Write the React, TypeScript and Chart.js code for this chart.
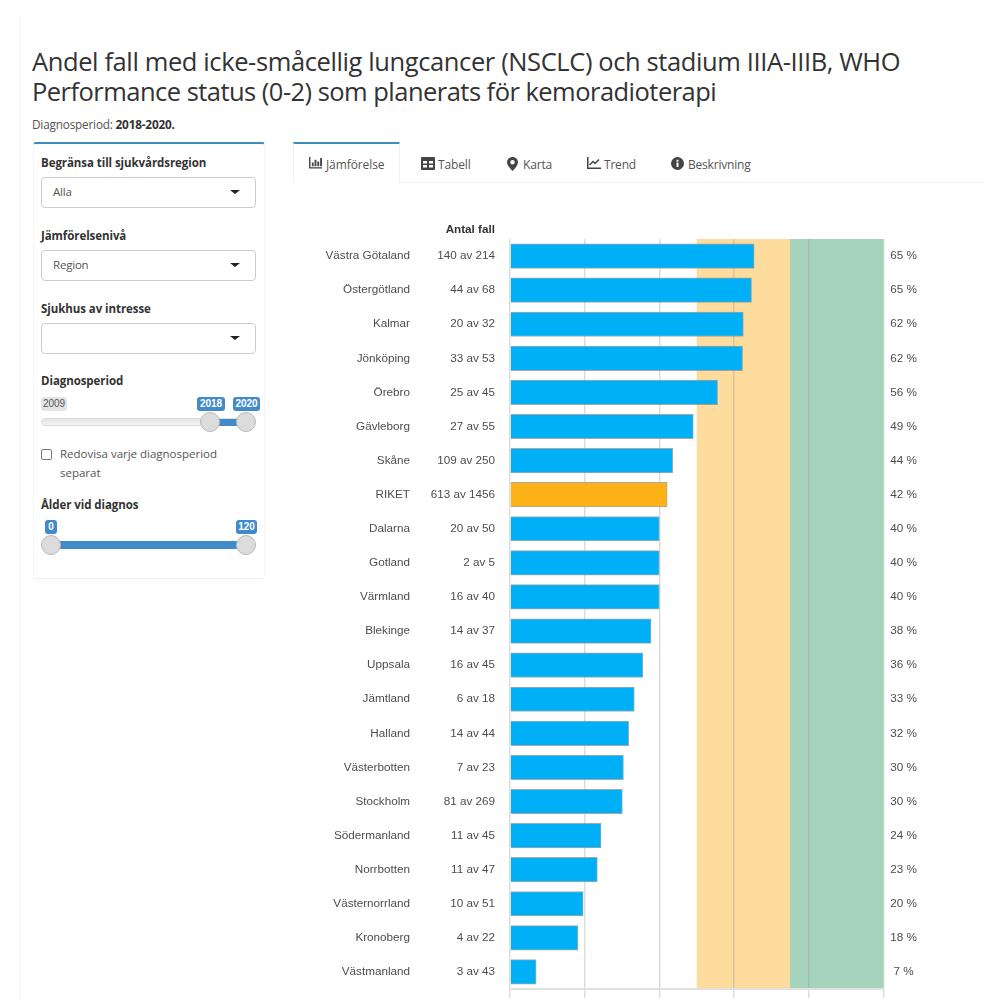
import React, { useEffect, useRef } from "react";
import { Chart, registerables } from "chart.js";

Chart.register(...registerables);

const regions = ["Västra Götaland", "Östergötland", "Kalmar", "Jönköping", "Örebro", "Gävleborg", "Skåne", "RIKET", "Dalarna", "Gotland", "Värmland", "Blekinge", "Uppsala", "Jämtland", "Halland", "Västerbotten", "Stockholm", "Södermanland", "Norrbotten", "Västernorrland", "Kronoberg", "Västmanland"];
const caseCounts = ["140 av 214", "44 av 68", "20 av 32", "33 av 53", "25 av 45", "27 av 55", "109 av 250", "613 av 1456", "20 av 50", "2 av 5", "16 av 40", "14 av 37", "16 av 45", "6 av 18", "14 av 44", "7 av 23", "81 av 269", "11 av 45", "11 av 47", "10 av 51", "4 av 22", "3 av 43"];
const shares = [65.4, 64.7, 62.5, 62.3, 55.6, 49.1, 43.6, 42.1, 40, 40, 40, 37.8, 35.6, 33.3, 31.8, 30.4, 30.1, 24.4, 23.4, 19.6, 18.2, 7];
const shareLabels = ["65 %", "65 %", "62 %", "62 %", "56 %", "49 %", "44 %", "42 %", "40 %", "40 %", "40 %", "38 %", "36 %", "33 %", "32 %", "30 %", "30 %", "24 %", "23 %", "20 %", "18 %", "7 %"];
const medium = [50, 75];
const high = [75, 100];

const uiFont = "'Open Sans', sans-serif";
const chartFont = "'Liberation Sans', Arial, sans-serif";

const box = (left: number, top: number, width: number, height: number, style: React.CSSProperties = {}): React.CSSProperties => ({
  position: "absolute", left, top, width, height, boxSizing: "border-box", ...style,
});

function Text({ x, y, size = 12, weight = 400, color = "#555", children, spacing = 0 }: any) {
  return (
    <div style={{ position: "absolute", left: x, top: y, fontFamily: uiFont, fontSize: size, fontWeight: weight, color, letterSpacing: spacing, whiteSpace: "nowrap", lineHeight: "16px" }}>
      {children}
    </div>
  );
}

function Heading({ y, children }: any) {
  return <Text x={41} y={y} weight={700} color="#333" size={11.5} spacing={-0.07}>{children}</Text>;
}

function Select({ y, label }: { y: number; label?: string }) {
  return (
    <div style={box(41, y, 215, 31, { border: "1px solid #ccc", borderRadius: 4, background: "#fff" })}>
      {label && <Text x={11} y={6} size={11.5} spacing={-0.2}>{label}</Text>}
      <div style={{ position: "absolute", left: 188, top: 12, width: 0, height: 0, borderLeft: "5px solid transparent", borderRight: "5px solid transparent", borderTop: "4px solid #222" }} />
    </div>
  );
}

function Handle({ x, y }: { x: number; y: number }) {
  return <div style={box(x - 10, y - 10, 20, 20, { borderRadius: "50%", background: "#dcdcdc", border: "1px solid #bbb" })} />;
}

function Badge({ x, y, width, children, grey }: any) {
  return (
    <div style={box(x, y, width, 14, { borderRadius: 3, background: grey ? "#e4e4e4" : "#428bca", color: grey ? "#555" : "#fff", fontFamily: chartFont, fontSize: 10, lineHeight: "14px", textAlign: "center", fontWeight: grey ? 400 : 700 })}>
      {children}
    </div>
  );
}

const icon = { position: "absolute" as const, top: 157 };

function Tabs() {
  return (
    <>
      <div style={box(293, 142, 107, 41, { borderTop: "2px solid #3c8dbc", borderLeft: "1px solid #f2f2f2", borderRight: "1px solid #f0f0f0", background: "#fff" })} />
      <div style={box(400, 182, 585, 1, { background: "#f2f2f2" })} />
      <svg style={{ ...icon, left: 309 }} width="13" height="12" viewBox="0 0 14 13">
        <path d="M0 0h1.5v11H14v1.5H0z M3 6h2v4H3z M6 3h2v7H6z M9 5h2v5H9z M12 1h2v9h-2z" fill="#444" />
      </svg>
      <Text x={326} y={156.5} spacing={-0.1}>Jämförelse</Text>
      <svg style={{ ...icon, left: 421 }} width="14" height="13" viewBox="0 0 14 13">
        <path fillRule="evenodd" d="M1 0h12a1 1 0 0 1 1 1v11a1 1 0 0 1-1 1H1a1 1 0 0 1-1-1V1a1 1 0 0 1 1-1z M2 4v2.5h4V4z M8 4v2.5h4V4z M2 8v2.5h4V8z M8 8v2.5h4V8z" fill="#444" />
      </svg>
      <Text x={438} y={156.5} spacing={-0.15}>Tabell</Text>
      <svg style={{ ...icon, left: 507 }} width="11" height="14" viewBox="0 0 11 14">
        <path fillRule="evenodd" d="M5.5 0A5.2 5.2 0 0 1 11 5.2C11 8 7.5 12 5.5 14 3.5 12 0 8 0 5.2A5.2 5.2 0 0 1 5.5 0z M5.5 3a2.2 2.2 0 1 0 0 4.4 2.2 2.2 0 0 0 0-4.4z" fill="#444" />
      </svg>
      <Text x={523} y={156.5} spacing={-0.15}>Karta</Text>
      <svg style={{ ...icon, left: 587 }} width="14" height="13" viewBox="0 0 14 13">
        <path d="M0 0h1.5v10.5H14V12H0z" fill="#444" />
        <path d="M2.5 8 6 4.5 8 6.5 12 2.5" fill="none" stroke="#444" strokeWidth="1.5" />
      </svg>
      <Text x={604} y={156.5} spacing={-0.2}>Trend</Text>
      <svg style={{ ...icon, left: 671 }} width="13" height="13" viewBox="0 0 13 13">
        <circle cx="6.5" cy="6.5" r="6.5" fill="#444" />
        <rect x="5.5" y="5.5" width="2" height="4.5" fill="#fff" />
        <rect x="5.5" y="2.8" width="2" height="1.8" fill="#fff" />
      </svg>
      <Text x={688} y={156.5} spacing={-0.2}>Beskrivning</Text>
    </>
  );
}

function Sidebar() {
  return (
    <>
      <div style={box(33, 142, 232, 437, { borderTop: "2px solid #3c8dbc", borderBottom: "1px solid #eee", borderLeft: "1px solid #f6f6f6", borderRight: "1px solid #f6f6f6", borderRadius: 3 })} />
      <Heading y={155}>Begränsa till sjukvårdsregion</Heading>
      <Select y={177} label="Alla" />
      <Heading y={228}>Jämförelsenivå</Heading>
      <Select y={250} label="Region" />
      <Heading y={301}>Sjukhus av intresse</Heading>
      <Select y={323} />
      <Heading y={373}>Diagnosperiod</Heading>
      <Badge x={41} y={397} width={26} grey>2009</Badge>
      <Badge x={197} y={397} width={28}>2018</Badge>
      <Badge x={233} y={397} width={27}>2020</Badge>
      <div style={box(41, 418, 215, 8, { background: "linear-gradient(#e4e4e4, #f4f4f4)", border: "1px solid #ddd", borderRadius: 4 })} />
      <div style={box(210, 419, 36, 7, { background: "#428bca" })} />
      <Handle x={210} y={421.5} />
      <Handle x={246} y={421.5} />
      <div style={box(41, 449, 11, 11, { border: "1px solid #777", borderRadius: 2, background: "#fff" })} />
      <Text x={60} y={446} size={11.5} spacing={-0.01}>Redovisa varje diagnosperiod</Text>
      <Text x={60} y={465} size={11.5} spacing={-0.01}>separat</Text>
      <Heading y={497}>Ålder vid diagnos</Heading>
      <Badge x={45} y={520} width={12}>0</Badge>
      <Badge x={236} y={520} width={21}>120</Badge>
      <div style={box(51, 541, 195, 8, { background: "#428bca" })} />
      <Handle x={51} y={545} />
      <Handle x={246} y={545} />
    </>
  );
}

export default function App() {
  const canvasRef = useRef<HTMLCanvasElement>(null);

  useEffect(() => {
    const annotate = {
      id: "rowText",
      beforeDraw(chart: any) {
        const { ctx, chartArea, scales } = chart;
        const paint = (range: number[], color: string) => {
          const a = scales.x.getPixelForValue(range[0]);
          const b = scales.x.getPixelForValue(range[1]);
          ctx.fillStyle = color;
          ctx.fillRect(a, chartArea.top, b - a, chartArea.bottom - chartArea.top);
        };
        paint(medium, "#FDDC9E");
        paint(high, "#A5D3BB");
      },
      afterDraw(chart: any) {
        const { ctx, scales } = chart;
        ctx.save();
        ctx.textBaseline = "middle";
        ctx.font = `bold 11.7px ${chartFont}`;
        ctx.fillStyle = "#333";
        ctx.textAlign = "right";
        ctx.fillText("Antal fall", 202, 14.5);
        ctx.font = `11.7px ${chartFont}`;
        ctx.fillStyle = "#4d4d4d";
        regions.forEach((_, i) => {
          const y = scales.y.getPixelForValue(i);
          ctx.textAlign = "right";
          ctx.fillText(caseCounts[i], 202, y);
          ctx.textAlign = "center";
          ctx.fillText(shareLabels[i], 610.5, y);
        });
        ctx.restore();
      },
    };

    const chart = new Chart(canvasRef.current!, {
      type: "bar",
      data: {
        labels: regions,
        datasets: [{
          data: shares,
          backgroundColor: regions.map((r) => (r === "RIKET" ? "#FFB217" : "#00B0F6")),
          borderColor: "rgba(140,140,140,0.75)",
          borderWidth: 1,
          barThickness: 24.5,
        }],
      },
      options: {
        indexAxis: "y",
        animation: false,
        responsive: false,
        layout: { padding: { top: 24, right: 101.7, bottom: 0, left: 0 } },
        plugins: { legend: { display: false }, tooltip: { enabled: false } },
        scales: {
          x: {
            min: 0,
            max: 100,
            ticks: { display: false, stepSize: 20 },
            grid: { color: "rgba(150,150,150,0.32)", lineWidth: 1.5, tickLength: 9, drawTicks: true },
            border: { color: "#e0e0e0", width: 2 },
            afterFit(scale: any) { scale.height = 11; },
          },
          y: {
            ticks: { color: "#4d4d4d", padding: 100, font: { family: chartFont, size: 11.7 } },
            grid: { display: false, drawTicks: false },
            border: { display: false },
            afterFit(scale: any) {
              // the wide tick padding would otherwise also inset the plot vertically
              scale.width = 217;
              scale.paddingTop = 0;
              scale.paddingBottom = 0;
            },
          },
        },
      },
      plugins: [annotate],
    } as any);
    return () => chart.destroy();
  }, []);

  const titleStyle: React.CSSProperties = { position: "absolute", left: 32, width: 900, fontFamily: uiFont, fontSize: 25.5, lineHeight: "30px", color: "#333", whiteSpace: "nowrap" };

  return (
    <div style={{ position: "fixed", left: 0, top: 0, width: 985, height: 1000, overflow: "hidden", background: "#fff" }}>
      <div style={box(19, 14, 1, 986, { background: "#f4f4f4" })} />
      <div style={{ ...titleStyle, top: 46, letterSpacing: -0.39 }}>Andel fall med icke-småcellig lungcancer (NSCLC) och stadium IIIA-IIIB, WHO</div>
      <div style={{ ...titleStyle, top: 76, letterSpacing: -0.53 }}>Performance status (0-2) som planerats för kemoradioterapi</div>
      <Text x={32} y={116} size={11.8} color="#555" spacing={-0.2}>Diagnosperiod: <b style={{ color: "#333" }}>2018-2020.</b></Text>
      <Sidebar />
      <Tabs />
      <canvas ref={canvasRef} width={692} height={785} style={{ position: "absolute", left: 293, top: 215, width: 692, height: 785 }} />
    </div>
  );
}
